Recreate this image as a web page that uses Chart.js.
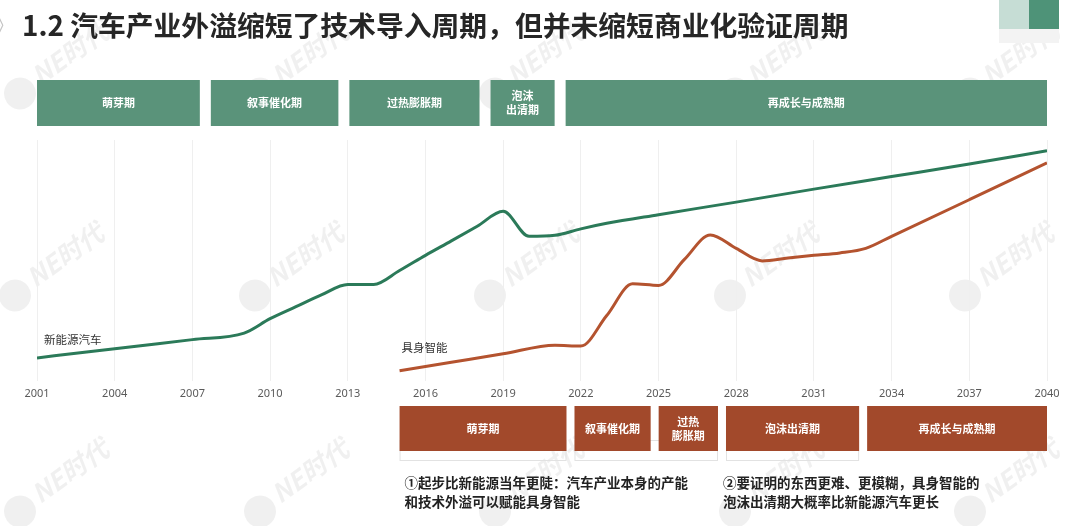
<!DOCTYPE html>
<html><head><meta charset="utf-8">
<script src="https://cdn.jsdelivr.net/npm/chart.js@4.4.1/dist/chart.umd.min.js"></script>
<style>html,body{margin:0;padding:0;background:#fff;overflow:hidden}#wrap{position:relative;width:1080px;height:526px}</style>
</head><body><div id="wrap"><canvas id="c" width="1080" height="526"></canvas></div>
<script>
const titleText = '1.2 汽车产业外溢缩短了技术导入周期，但并未缩短商业化验证周期';
const tickYears = [2001,2004,2007,2010,2013,2016,2019,2022,2025,2028,2031,2034,2037,2040];
const nevName = '新能源汽车';
const nevYears  = [2001,2003,2005,2007,2009,2010,2011,2012,2013,2014,2015,2016,2017,2018,2019,2020,2021,2022,2023,2025,2028,2031,2034,2037,2040];
const nevValues = [9.5,12.1,14.6,17.1,19.8,25.8,30.8,35.8,40.0,40.0,45.8,52.1,58.1,64.2,70.4,60.0,60.4,63.1,65.4,69.0,74.2,79.6,84.8,90.0,95.5];
const eaiName = '具身智能';
const eaiYears  = [2015,2017,2019,2021,2022,2023,2024,2025,2026,2027,2028,2029,2030,2031,2032,2033,2034,2037,2040];
const eaiValues = [4.2,7.7,11.2,14.8,14.4,27.1,40.3,39.6,50.4,60.6,55.0,49.8,51.0,52.1,53.1,55.0,60.0,75.2,90.5];
const nevPhases = ['萌芽期','叙事催化期','过热膨胀期','泡沫\n出清期','再成长与成熟期'];
const nevPhaseBounds = [2001, 2007.5, 2012.85, 2018.3, 2021.2, 2040];
const eaiPhases = ['萌芽期','叙事催化期','过热\n膨胀期','泡沫出清期','再成长与成熟期'];
const eaiPhaseBounds = [2015, 2021.6, 2024.85, 2027.45, 2032.9, 2040];
const note1 = ['①起步比新能源当年更陡：汽车产业本身的产能','和技术外溢可以赋能具身智能'];
const note2 = ['②要证明的东西更难、更模糊，具身智能的','泡沫出清期大概率比新能源汽车更长'];
const watermark = 'NE时代';

const CJK = '"Noto Sans CJK SC","Noto Sans",sans-serif';
const GREEN = '#2b7a59', ORANGE = '#b4532f';
const BOX_GREEN = '#5a937a', BOX_BROWN = '#a2492b';

function drawBoxes(ctx, xs, bounds, labels, top, h, gap, color){
  const n = labels.length;
  for(let i=0;i<n;i++){
    const x0 = xs.getPixelForValue(bounds[i]) + (i>0?gap/2:0);
    const x1 = xs.getPixelForValue(bounds[i+1]) - (i<n-1?gap/2:0);
    ctx.fillStyle = color;
    ctx.fillRect(x0, top, x1-x0, h);
    ctx.fillStyle = '#fff';
    ctx.font = 'bold 11px '+CJK;
    ctx.textAlign='center'; ctx.textBaseline='middle';
    const lines = labels[i].split('\n');
    const lh = 14;
    lines.forEach((t,k)=>{
      ctx.fillText(t, (x0+x1)/2, top + h/2 + (k-(lines.length-1)/2)*lh);
    });
  }
}

const deco = {
  id:'deco',
  beforeDraw(chart){
    const ctx = chart.ctx;
    ctx.save();
    ctx.fillStyle='#fff'; ctx.fillRect(0,0,chart.width,chart.height);
    // watermarks
    ctx.fillStyle='rgba(0,0,0,0.06)';
    ctx.font='italic bold 26px '+CJK;
    ctx.textAlign='center'; ctx.textBaseline='middle';
    const rows=[60,262,478], cols=[60,300,535,775,1010];
    rows.forEach((wy,ri)=>cols.forEach((wx,ci)=>{
      ctx.save(); ctx.translate(wx + (ri===1?-5:0), wy); ctx.rotate(-0.62);
      ctx.beginPath(); ctx.arc(-52,4,16,0,Math.PI*2); ctx.fill();
      ctx.fillText(watermark, 12, 0); ctx.restore();
    }));
    ctx.restore();
  },
  afterDraw(chart){
    const ctx = chart.ctx, xs = chart.scales.x, ys = chart.scales.y;
    ctx.save();
    // chevron + title
    ctx.fillStyle='#c4c4c4'; ctx.font='20px '+CJK; ctx.textBaseline='middle'; ctx.textAlign='left';
    ctx.fillText('》', -6, 25);
    ctx.fillStyle='#262626'; ctx.font='bold 27.8px '+CJK;
    ctx.fillText(titleText, 22, 25);
    // top-right decoration
    ctx.fillStyle='#c6ddd5'; ctx.fillRect(999,0,30,29);
    ctx.fillStyle='#4e9378'; ctx.fillRect(1029,0,30,29);
    ctx.fillStyle='#f3f3f3'; ctx.fillRect(999,29,60,14);
    // phase boxes
    drawBoxes(ctx, xs, nevPhaseBounds, nevPhases, 80, 46, 11, BOX_GREEN);
    // faint outlines under brown boxes
    ctx.strokeStyle='#e2e2e2'; ctx.lineWidth=1;
    [[0,0],[1,2],[3,3]].forEach(([a,b])=>{
      const x0 = xs.getPixelForValue(eaiPhaseBounds[a]) + (a>0?4:0);
      const x1 = xs.getPixelForValue(eaiPhaseBounds[b+1]) - 4;
      ctx.strokeRect(x0+0.5, 440.5, x1-x0-1, 20);
    });
    drawBoxes(ctx, xs, eaiPhaseBounds, eaiPhases, 406, 45, 8, BOX_BROWN);
    // line labels
    ctx.fillStyle='#333'; ctx.font='11.5px '+CJK; ctx.textAlign='left'; ctx.textBaseline='middle';
    ctx.fillText(nevName, xs.getPixelForValue(nevYears[0])+7, ys.getPixelForValue(nevValues[0])-18);
    ctx.fillText(eaiName, xs.getPixelForValue(eaiYears[0])+2, ys.getPixelForValue(eaiValues[0])-23);
    // notes
    ctx.fillStyle='#222'; ctx.font='bold 13.5px '+CJK;
    note1.forEach((t,k)=>ctx.fillText(t, xs.getPixelForValue(eaiPhaseBounds[0])+5, 483+k*19));
    note2.forEach((t,k)=>ctx.fillText(t, xs.getPixelForValue(eaiPhaseBounds[3])+1, 483+k*19));
    ctx.restore();
  }
};

new Chart(document.getElementById('c'), {
  type:'line',
  data:{ datasets:[
    { label:nevName, data:nevYears.map((x,i)=>({x, y:nevValues[i]})), borderColor:GREEN, borderWidth:3, pointRadius:0, cubicInterpolationMode:'monotone', fill:false },
    { label:eaiName, data:eaiYears.map((x,i)=>({x, y:eaiValues[i]})), borderColor:ORANGE, borderWidth:3, pointRadius:0, cubicInterpolationMode:'monotone', fill:false }
  ]},
  options:{
    responsive:false, animation:false, devicePixelRatio:1,
    layout:{ padding:{ left:37, right:33, top:140, bottom:120 } },
    plugins:{ legend:{display:false}, tooltip:{enabled:false} },
    scales:{
      x:{ type:'linear', min:2001, max:2040,
        afterBuildTicks:(axis)=>{ axis.ticks = tickYears.map(v=>({value:v})); },
        ticks:{ autoSkip:false, maxRotation:0, padding:6, color:'#5a5a5a', font:{size:11, family:'"Noto Sans","DejaVu Sans",sans-serif'}, callback:(v)=>String(v) },
        grid:{ color:'#efefef', lineWidth:1, drawTicks:false },
        border:{ display:false }
      },
      y:{ display:false, min:0, max:100 }
    }
  },
  plugins:[deco]
});
</script></body></html>
